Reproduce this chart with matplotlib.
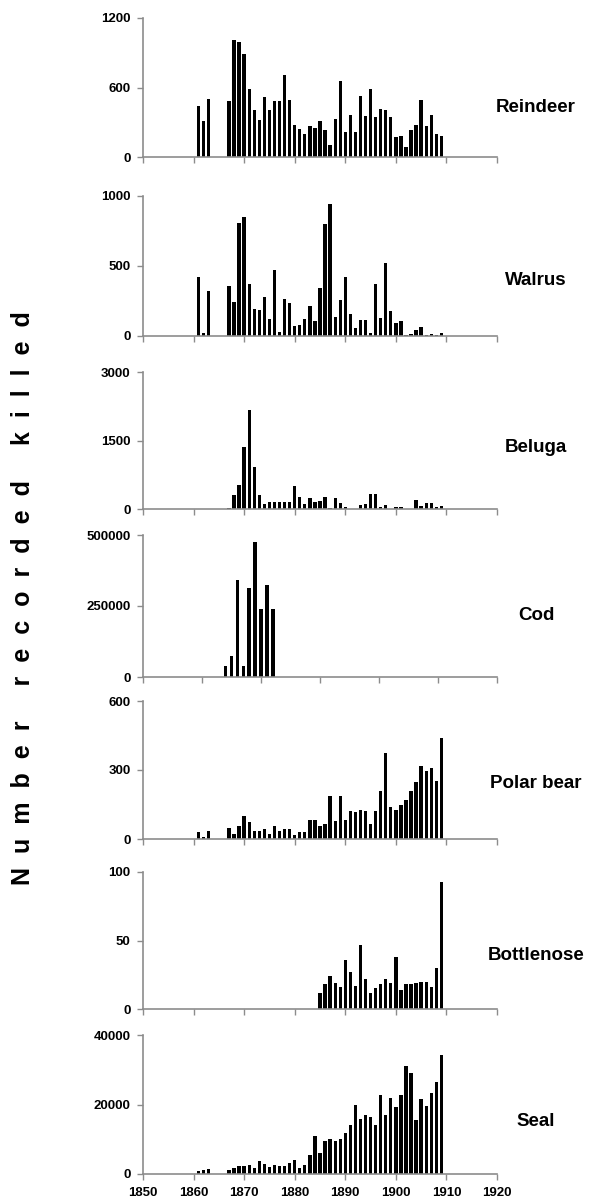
import matplotlib
matplotlib.use("Agg")
import matplotlib.pyplot as plt

plt.rcParams['font.family'] = ['Liberation Sans', 'DejaVu Sans']
plt.rcParams['font.weight'] = 'bold'

# years with records
years_a = [1861, 1862, 1863] + list(range(1867, 1910))

reindeer = [439, 312, 500,
            485, 1006, 991, 887, 584, 405, 318, 514, 405, 480,
            485, 711, 491, 280, 243, 202, 266, 254, 315, 231,
            101, 327, 656, 220, 364, 214, 529, 355, 584, 344,
            416, 405, 347, 173, 182, 84, 237, 272, 491, 266,
            364, 202, 179]

walrus = [422, 24, 325,
          360, 243, 805, 852, 370, 195, 188, 280, 120, 475,
          30, 262, 236, 70, 76, 120, 212, 108, 340, 800,
          940, 135, 260, 420, 160, 55, 115, 115, 20, 370,
          130, 525, 178, 90, 105, 5, 15, 40, 65, 5,
          15, 8, 20]

beluga_years = list(range(1867, 1891)) + list(range(1893, 1899)) + [1900, 1901] + list(range(1904, 1910))
beluga = [15, 300, 517, 1360, 2177, 910, 300, 110, 160, 160,
          145, 150, 160, 510, 270, 115, 230, 160, 180, 260,
          15, 245, 140, 45,
          80, 110, 320, 320, 50, 95,
          35, 35,
          195, 60, 140, 140, 50, 65]

cod_years = list(range(1866, 1875))
cod = [40000, 75000, 340000, 40000, 315000, 475000, 240000, 325000, 240000]

polar_bear = [30, 10, 33,
              46, 20, 55, 100, 75, 35, 35, 43, 23, 58,
              35, 43, 43, 19, 30, 30, 81, 84, 55, 66,
              189, 78, 189, 82, 121, 118, 127, 121, 65, 121,
              209, 375, 137, 127, 147, 170, 210, 247, 317, 296,
              307, 252, 440]

bottlenose_years = list(range(1885, 1910))
bottlenose = [12, 18, 24, 19, 16, 36, 27, 17, 47, 22,
              12, 15, 18, 22, 19, 38, 14, 18, 18, 19,
              20, 20, 16, 30, 93]

seal = [960, 1050, 1340,
        1150, 1720, 2390, 2390, 2580, 1820, 3830, 2870, 1910, 2490,
        2300, 2300, 3060, 4020, 1820, 2580, 5450, 10900, 5930, 9470,
        10050, 9570, 9950, 11870, 14070, 20000, 15700, 16940, 16460, 13970,
        22870, 16840, 22010, 19330, 22590, 31100, 29190, 15500, 21630, 19620,
        23350, 26510, 34160]

W, H = 606, 1200
fig = plt.figure(figsize=(W / 100, H / 100), dpi=100)
grey = '#8c8c8c'


def panel(top, bottom, years, values, yticks, name, label_y,
          xlim=(1850, 1920), xstep=10, width=0.65, xlabels=False):
    left, right = 143, 497
    ax = fig.add_axes([left / W, 1 - bottom / H, (right - left) / W, (bottom - top) / H])
    ax.bar(years, values, width=width, color='black', align='center')
    ax.set_xlim(*xlim)
    ax.set_ylim(0, yticks[-1])
    ax.set_yticks(yticks)
    ax.set_xticks(range(xlim[0], xlim[1] + 1, xstep))
    if not xlabels:
        ax.set_xticklabels([])
    for s in ['top', 'right']:
        ax.spines[s].set_visible(False)
    for s in ['left', 'bottom']:
        ax.spines[s].set_color(grey)
        ax.spines[s].set_linewidth(1.2)
    ax.tick_params(direction='out', length=4, width=1, color=grey,
                   labelsize=9.5, pad=5)
    ax.patch.set_alpha(0)
    fig.text(536 / W, 1 - label_y / H, name,
             fontsize=13.5, fontweight='bold', ha='center', va='center')
    return ax


panel(18, 157, years_a, reindeer, [0, 600, 1200], 'Reindeer', 107)
panel(196, 336, years_a, walrus, [0, 500, 1000], 'Walrus', 280)
panel(372, 509, beluga_years, beluga, [0, 1500, 3000], 'Beluga', 447)
panel(535, 677, cod_years, cod, [0, 250000, 500000], 'Cod', 616,
      xlim=(1852, 1912), width=0.6)
panel(701, 839, years_a, polar_bear, [0, 300, 600], 'Polar bear', 784)
panel(872, 1009, bottlenose_years, bottlenose, [0, 50, 100], 'Bottlenose', 955)
panel(1035, 1174, years_a, seal, [0, 20000, 40000], 'Seal', 1121, xlabels=True)

ylab = '     '.join('  '.join(w) for w in ['Number', 'recorded', 'killed'])
fig.text(23 / W, 1 - 598 / H, ylab,
         rotation=90, fontsize=18, fontweight='bold', ha='center', va='center')

fig.savefig('out.png', dpi=100)
